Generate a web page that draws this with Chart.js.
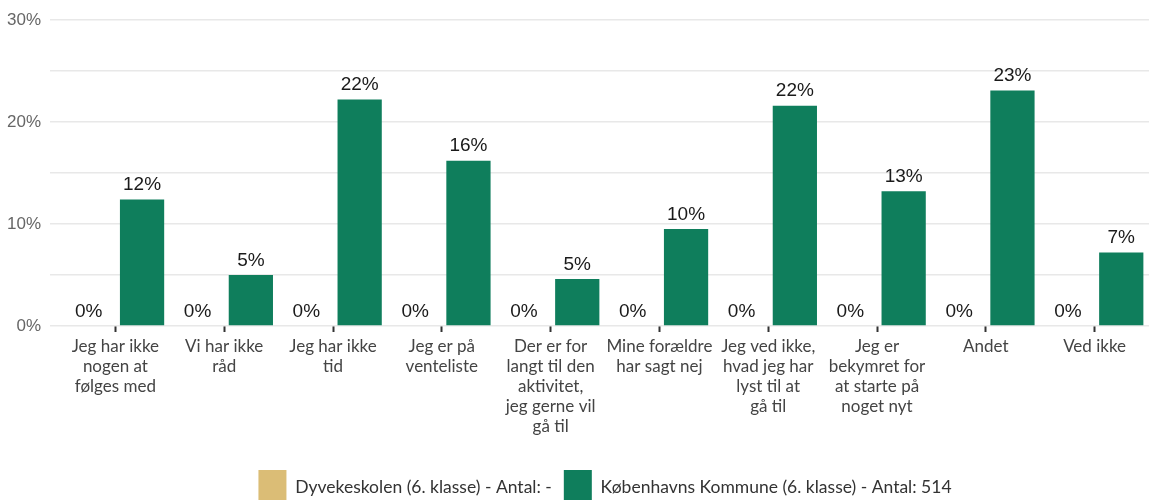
<!DOCTYPE html>
<html lang="da">
<head>
<meta charset="utf-8">
<script src="https://cdn.jsdelivr.net/npm/chart.js@4/dist/chart.umd.min.js"></script>
<style>
  html, body { margin: 0; padding: 0; background: #fff; }
  #boks { width: 1149px; height: 500px; position: relative; }
</style>
</head>
<body>
<div id="boks"><canvas id="grafik"></canvas></div>
<script>
// kategorier (flere linjer pr. label)
const kategorier = [
    ["Jeg har ikke", "nogen at", "følges med"],
    ["Vi har ikke", "råd"],
    ["Jeg har ikke", "tid"],
    ["Jeg er på", "venteliste"],
    ["Der er for", "langt til den", "aktivitet,", "jeg gerne vil", "gå til"],
    ["Mine forældre", "har sagt nej"],
    ["Jeg ved ikke,", "hvad jeg har", "lyst til at", "gå til"],
    ["Jeg er", "bekymret for", "at starte på", "noget nyt"],
    "Andet",
    "Ved ikke"
];

const skolenVaerdier = [0, 0, 0, 0, 0, 0, 0, 0, 0, 0];
const kommunenVaerdier = [12.4, 5.0, 22.2, 16.2, 4.6, 9.5, 21.6, 13.2, 23.1, 7.2];

const skolenNavn = "Dyvekeskolen (6. klasse) - Antal: -";
const kommunenNavn = "Københavns Kommune (6. klasse) - Antal: 514";

const COR_SKOLE = "#dbbd76";
const COR_KOMMUNE = "#0f7e5c";

const FONT_TEKST = "Lato, 'Noto Sans', sans-serif";
const FONT_TAL = "'Liberation Sans', Arial, sans-serif";

// legenden skubbes lidt ned, så boksene bliver beskåret forneden
const LEGENDE_SKUB = 14;
// boxHeight 34 + padding 12 + 10 (Chart.js' egen luft)
const LEGENDE_HOEJDE = 56;
const BUND_Y = 326; // 0%-linjen

// procent-etiketter over søjlerne
const etiketter = {
    id: "etiketter",
    afterDatasetsDraw(chart) {
        const ctx = chart.ctx;
        ctx.save();
        ctx.font = "19px " + FONT_TAL;
        ctx.fillStyle = "#1a1a1a";
        ctx.textAlign = "center";
        ctx.textBaseline = "bottom";
        chart.data.datasets.forEach((ds, i) => {
            const meta = chart.getDatasetMeta(i);
            meta.data.forEach((bar, j) => {
                ctx.fillText(Math.round(ds.data[j]) + "%", bar.x, bar.y - 5);
            });
        });
        ctx.restore();
    }
};

new Chart(document.getElementById("grafik"), {
    type: "bar",
    data: {
        labels: kategorier,
        datasets: [
            {
                label: skolenNavn,
                data: skolenVaerdier,
                backgroundColor: COR_SKOLE,
                categoryPercentage: 0.98,
                barPercentage: 0.83
            },
            {
                label: kommunenNavn,
                data: kommunenVaerdier,
                backgroundColor: COR_KOMMUNE,
                categoryPercentage: 0.98,
                barPercentage: 0.83
            }
        ]
    },
    options: {
        responsive: true,
        maintainAspectRatio: false,
        animation: false,
        layout: { padding: { top: 20, right: 0, left: 0, bottom: -LEGENDE_SKUB } },
        plugins: {
            legend: {
                position: "bottom",
                fullSize: false, // centreres under plotområdet
                labels: {
                    boxWidth: 28,
                    boxHeight: 34,
                    padding: 12,
                    color: "#333",
                    font: { family: FONT_TEKST, size: 17.5 }
                }
            },
            tooltip: { enabled: false }
        },
        scales: {
            x: {
                grid: {
                    offset: false,
                    drawOnChartArea: false,
                    drawTicks: true,
                    tickLength: 6,
                    tickWidth: 2,
                    tickColor: "#333"
                },
                border: { display: false },
                ticks: {
                    color: "#444",
                    padding: 4,
                    maxRotation: 0,
                    autoSkip: false,
                    font: { family: FONT_TEKST, size: 17, lineHeight: 1.18 }
                },
                afterFit(s) {
                    s.height = 500 + LEGENDE_SKUB - BUND_Y - LEGENDE_HOEJDE;
                }
            },
            y: {
                min: 0,
                max: 30,
                grid: {
                    color: "#e8e8e8",
                    lineWidth: 1.5,
                    tickLength: 11
                },
                border: { display: false },
                ticks: {
                    stepSize: 5,
                    padding: 9,
                    color: "#666",
                    font: { family: FONT_TAL, size: 17 },
                    callback: v => (v % 10 === 0 ? v + "%" : "")
                },
                afterFit(s) { s.width = 61; }
            }
        }
    },
    plugins: [etiketter]
});
</script>
</body>
</html>
